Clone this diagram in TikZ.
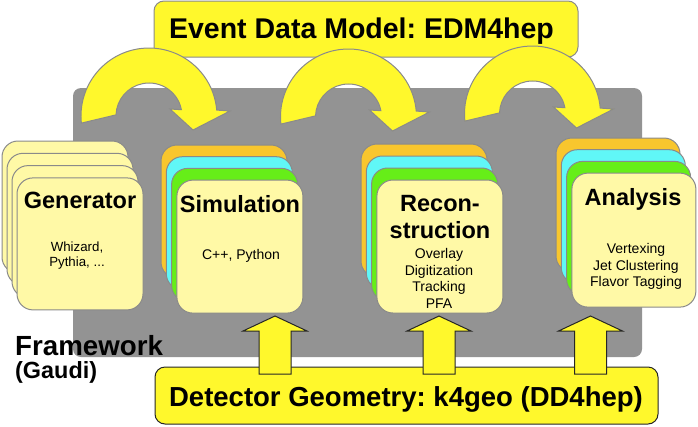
\documentclass[tikz,border=0pt]{standalone}
\usepackage{fontspec}
\setmainfont{Liberation Sans}
\usepackage{xcolor}
\frenchspacing

\definecolor{hiyellow}{RGB}{255,248,44}
\definecolor{paleyellow}{RGB}{255,249,166}
\definecolor{cardorange}{RGB}{248,198,46}
\definecolor{cardcyan}{RGB}{96,247,247}
\definecolor{cardgreen}{RGB}{102,238,24}
\definecolor{fwgray}{RGB}{147,147,147}
\definecolor{edgegray}{RGB}{138,138,138}

% bent block arrow, centre of the bend at (#1,#2)
\newcommand{\bendarrow}[2]{%
  \draw[bendstyle] ({#1+68*cos(174)},{#2+68*sin(174)}) arc[start angle=174, end angle=355, radius=68]
    -- ({#1+81},{#2-5}) -- ({#1+44},{#2+14}) -- ({#1+21},{#2-7})
    -- ({#1+33*cos(349)},{#2+33*sin(349)}) arc[start angle=349, end angle=182, radius=33] -- cycle;}
% straight block arrow pointing up, tip at x=#1
\newcommand{\liftarrow}[1]{%
  \draw[liftstyle] (#1,316) -- ({#1+32},331) -- ({#1+16},331) -- ({#1+16},374)
    -- ({#1-16},374) -- ({#1-16},331) -- ({#1-32},331) -- cycle;}

\begin{document}
\begin{tikzpicture}[x=1pt,y=1pt,yscale=-1,xscale=1,
    cardbox/.style={draw=edgegray, line width=1pt, rounded corners=16pt},
    bendstyle/.style={draw=edgegray, fill=hiyellow, line width=1pt},
    liftstyle/.style={draw=black!85, fill=hiyellow, line width=1pt},
    bannertext/.style={inner sep=0pt, font=\fontsize{28.5}{32}\selectfont\bfseries},
    stagename/.style={inner sep=0pt, align=center, font=\fontsize{23.5}{27}\selectfont\bfseries},
    stagedetail/.style={inner sep=0pt, align=center, font=\fontsize{14}{16.8}\selectfont}]
    \useasboundingbox (0,0) rectangle (698,426);

    %Shape: Framework background
    \fill[fwgray, rounded corners=8pt] (73,88) rectangle (642,357);

    %Shape: Event data model banner
    \draw[draw=edgegray, fill=hiyellow, line width=1pt, rounded corners=10pt] (154,1) rectangle (578,57);

    %Shape: Generator cards
    \foreach \i in {0,...,3}
        \draw[cardbox, fill=paleyellow] ({2+5*\i},{141+12.3*\i}) rectangle ++(126,132);
    %Shape: Simulation cards
    \foreach \c [count=\i from 0] in {cardorange,cardcyan,cardgreen,paleyellow}
        \draw[cardbox, fill=\c] ({161+5.3*\i},{145+11.7*\i}) rectangle ++(126,133);
    %Shape: Reconstruction cards
    \foreach \c [count=\i from 0] in {cardorange,cardcyan,cardgreen,paleyellow}
        \draw[cardbox, fill=\c] ({361+5.3*\i},{144+12*\i}) rectangle ++(126,133);
    %Shape: Analysis cards
    \foreach \c [count=\i from 0] in {cardorange,cardcyan,cardgreen,paleyellow}
        \draw[cardbox, fill=\c] ({556+5.3*\i},{138+11.7*\i}) rectangle ++(124,134);

    %Shape: Bent arrows from the data model
    \bendarrow{149}{116}
    \bendarrow{348.5}{117}
    \bendarrow{532.5}{114}

    %Shape: Detector geometry banner
    \draw[draw=black!85, fill=hiyellow, line width=1pt, rounded corners=10pt] (155,367) rectangle (658,424);

    %Shape: Arrows from the geometry
    \liftarrow{275}
    \liftarrow{439}
    \liftarrow{590.5}

    % Text Node
    \node[bannertext, anchor=base] (edm) at (361.5,38.5) {Event Data Model: EDM4hep};
    \node[bannertext, anchor=base, font=\fontsize{27.5}{32}\selectfont\bfseries] (geo) at (406,406) {Detector Geometry: k4geo (DD4hep)};
    \node[anchor=base west, inner sep=0pt, font=\fontsize{27.7}{32}\selectfont\bfseries] (fw) at (15,355) {Framework};
    \node[anchor=base west, inner sep=0pt, font=\fontsize{23.4}{27}\selectfont\bfseries] (gaudi) at (15,378) {(Gaudi)};

    \node[stagename, anchor=base] (gen) at (80,208) {Generator};
    \node[stagedetail, anchor=north, font=\fontsize{13.3}{15}\selectfont] (gendet) at (77,242) {Whizard,\\Pythia, ...};

    \node[stagename, anchor=base] (sim) at (240,212) {Simulation};
    \node[stagedetail, anchor=north] (simdet) at (241,249) {C++, Python};

    \node[stagename, anchor=north] (reco) at (440,195) {Recon-\\struction};
    \node[stagedetail, anchor=north] (recodet) at (439,248) {Overlay\\Digitization\\Tracking\\PFA};

    \node[stagename, anchor=base] (ana) at (633,205) {Analysis};
    \node[stagedetail, anchor=north] (anadet) at (636,243) {Vertexing\\Jet Clustering\\Flavor Tagging};
\end{tikzpicture}
\end{document}
